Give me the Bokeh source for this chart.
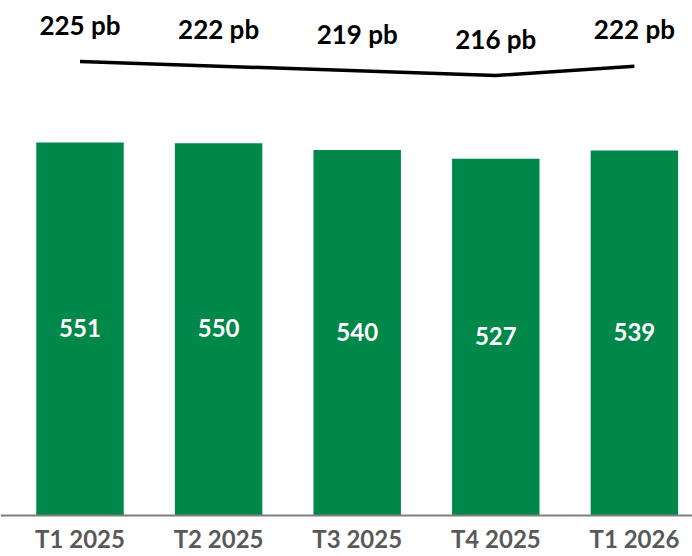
from bokeh.plotting import figure
from bokeh.models import Range1d, Span
from bokeh.embed import file_html
from bokeh.resources import INLINE
from bokeh.core.properties import value

# ---- data ----
quarters = ["T1 2025", "T2 2025", "T3 2025", "T4 2025", "T1 2026"]
revenue = [551, 550, 540, 527, 539]
margin_bp = [225, 222, 219, 216, 222]
margin_labels = [f"{v} pb" for v in margin_bp]
revenue_labels = [str(v) for v in revenue]

idx = list(range(len(quarters)))
bar_mid = [v / 2 for v in revenue]
zeros = [0] * len(quarters)

GREEN = "#00874A"
FONT = value("Lato")

W, H = 692, 556
BASE = 515                      # pixel row of the bar baseline
px_per_unit = (BASE - 142) / 551.0
y_min = -(H - BASE) / px_per_unit
y_max = BASE / px_per_unit

bp_px = 1.556
bp_top = 225 + 61 / bp_px
bp_bottom = bp_top - H / bp_px

step = 138.6
x_start = -79.5 / step
x_end = x_start + W / step

p = figure(width=W, height=H, output_backend="svg", toolbar_location=None,
           x_range=Range1d(x_start, x_end), y_range=Range1d(y_min, y_max),
           min_border=0, outline_line_color=None,
           x_axis_location=None, y_axis_location=None,
           background_fill_color="white", border_fill_color="white")
p.extra_y_ranges = {"bp": Range1d(bp_bottom, bp_top)}
p.xgrid.visible = False
p.ygrid.visible = False

p.vbar(x=idx, top=revenue, width=0.631, fill_color=GREEN, line_color=None)
p.text(x=idx, y=bar_mid, text=revenue_labels, text_color="white",
       text_font=FONT, text_font_style="bold", text_font_size="24px",
       text_align="center", text_baseline="alphabetic", y_offset=-1)

# category axis line and labels
p.add_layout(Span(location=0, dimension="width", line_color="#7F7F7F",
                  line_width=2))
p.text(x=idx, y=zeros, text=quarters, text_color="#595959",
       text_font=FONT, text_font_style="bold", text_font_size="24px",
       text_align="center", text_baseline="alphabetic", y_offset=23)

# margin line and its labels
p.line(x=idx, y=margin_bp, y_range_name="bp", line_color="black",
       line_width=3.5)
p.text(x=idx, y=margin_bp, text=margin_labels, y_range_name="bp",
       y_offset=-37, text_color="black", text_font=FONT,
       text_font_style="bold", text_font_size="26px",
       text_align="center", text_baseline="alphabetic")

open("out.html", "w").write(file_html(p, INLINE))
